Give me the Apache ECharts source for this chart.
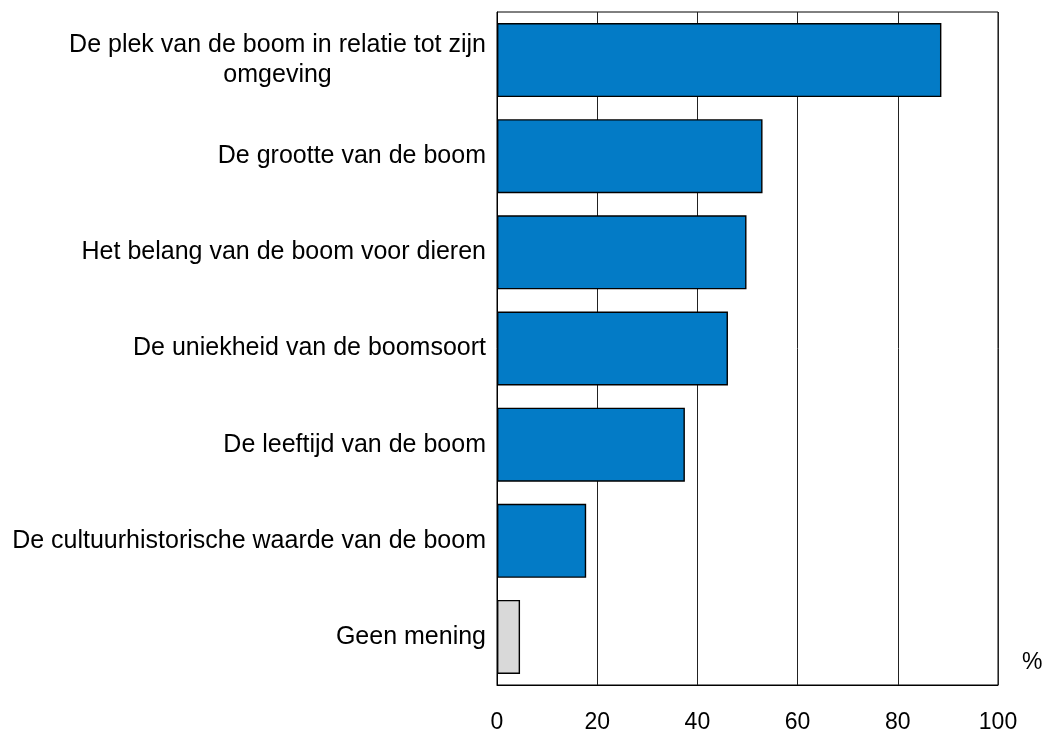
<!DOCTYPE html>
<html>
<head>
<meta charset="utf-8">
<script src="https://cdn.jsdelivr.net/npm/echarts@6/dist/echarts.min.js"></script>
<style>html,body{margin:0;padding:0;background:#fff;}#c{width:1045px;height:731px;}</style>
</head>
<body>
<div id="c"></div>
<script>
const categories = [
  'De plek van de boom in relatie tot zijn\nomgeving',
  'De grootte van de boom',
  'Het belang van de boom voor dieren',
  'De uniekheid van de boomsoort',
  'De leeftijd van de boom',
  'De cultuurhistorische waarde van de boom',
  'Geen mening'
];
const values = [88.7, 53.0, 49.8, 46.1, 37.5, 17.8, 4.6];
const xTicks = [0, 20, 40, 60, 80, 100];
const unitLabel = '%';

const chart = echarts.init(document.getElementById('c'), null, {renderer: 'canvas'});
const font = '"Liberation Sans", Arial, sans-serif';
chart.setOption({
  animation: false,
  title: {text: unitLabel, left: 1022, top: 651, padding: 0,
    textStyle: {fontFamily: font, fontSize: 23, fontWeight: 'normal', color: '#000'}},
  grid: {left: 497, right: 47, top: 12, bottom: 46, outerBoundsMode: 'none', containLabel: false,
    show: true, borderColor: '#000', borderWidth: 1, backgroundColor: 'transparent'},
  xAxis: {
    type: 'value', min: xTicks[0], max: xTicks[xTicks.length - 1], interval: xTicks[1] - xTicks[0],
    axisLine: {show: true, lineStyle: {color: '#000', width: 1}},
    axisTick: {show: false},
    axisLabel: {fontFamily: font, fontSize: 23, color: '#000', margin: 26},
    splitLine: {show: true, lineStyle: {color: '#222', width: 1}}
  },
  yAxis: {
    type: 'category', data: categories, inverse: true,
    axisLine: {show: true, lineStyle: {color: '#000', width: 1}},
    axisTick: {show: false},
    axisLabel: {
      fontFamily: font, fontSize: 25, color: '#000', margin: 11, lineHeight: 30,
      formatter: function (v) { return v.split('\n').map(function (s) { return '{c|' + s + '}'; }).join('\n'); },
      rich: {c: {align: 'center', fontFamily: font, fontSize: 25, color: '#000', lineHeight: 30}}
    }
  },
  series: [{
    type: 'bar',
    data: values.map(function (v, i) { return i === values.length - 1 ? {value: v, itemStyle: {color: '#d9d9d9'}} : v; }),
    barCategoryGap: '23%',
    itemStyle: {color: '#037bc6', borderColor: '#000', borderWidth: 1.4},
    silent: true
  }]
});
</script>
</body>
</html>
